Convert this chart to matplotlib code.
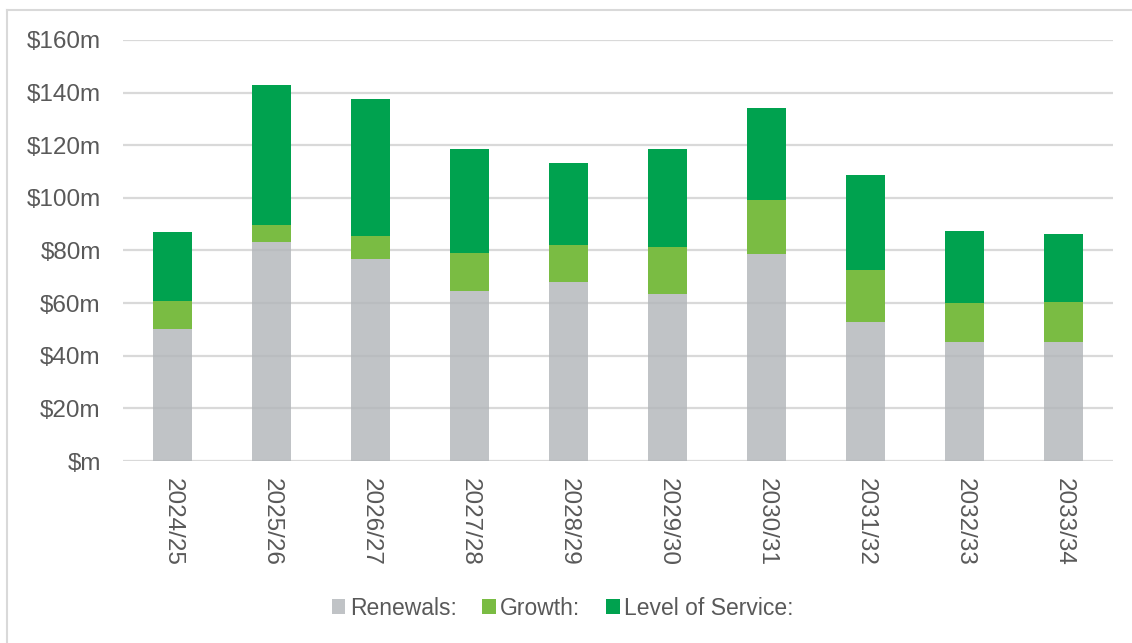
import matplotlib
matplotlib.use("Agg")
import matplotlib.pyplot as plt
from matplotlib.lines import Line2D
import numpy as np

plt.rcParams['font.family'] = ['Liberation Sans', 'DejaVu Sans']

years = ["2024/25", "2025/26", "2026/27", "2027/28", "2028/29",
         "2029/30", "2030/31", "2031/32", "2032/33", "2033/34"]
renewals = [50.2, 83.1, 76.8, 64.6, 68.0, 63.5, 78.6, 52.9, 45.1, 45.1]
growth = [10.7, 6.5, 8.6, 14.4, 14.2, 17.8, 20.7, 19.8, 15.1, 15.3]
level_of_service = [26.2, 53.3, 52.1, 39.6, 31.1, 37.4, 34.9, 36.1, 27.3, 26.0]
yticks = [0, 20, 40, 60, 80, 100, 120, 140, 160]
ytick_labels = ["$m", "$20m", "$40m", "$60m", "$80m", "$100m", "$120m", "$140m", "$160m"]

c_ren = "#B2B6BA"
c_gro = "#7ABC43"
c_los = "#00A24F"
txt = "#595959"

fig = plt.figure(figsize=(11.32, 6.43), dpi=100)
ax = fig.add_axes([0.1087, 0.283, 0.8745, 0.655])

x = np.arange(len(years))
w = 0.4
r = np.array(renewals)
g = np.array(growth)
l = np.array(level_of_service)
ax.bar(x, r, w, color=c_ren, alpha=0.82, zorder=3, label="Renewals:", edgecolor="none")
ax.bar(x, g, w, bottom=r, color=c_gro, zorder=3, label="Growth:", edgecolor="none")
ax.bar(x, l, w, bottom=r + g, color=c_los, zorder=3, label="Level of Service:", edgecolor="none")

ax.set_xlim(-0.5, len(years) - 0.5)
ax.set_ylim(0, 160)
ax.set_yticks(yticks)
ax.set_yticklabels(ytick_labels, fontsize=17.5, color=txt)
ax.set_xticks(x)
ax.set_xticklabels(years, rotation=270, fontsize=17.5, color=txt, va="top", ha="center")
ax.tick_params(axis="both", length=0)
ax.tick_params(axis="y", pad=16)
ax.tick_params(axis="x", pad=12)
ax.grid(axis="y", color="#D9D9D9", linewidth=1.6, zorder=1)
ax.set_axisbelow(True)
for s in ax.spines.values():
    s.set_visible(False)

leg = fig.legend(loc="center", bbox_to_anchor=(0.497, 0.054), ncol=3, frameon=False,
                 fontsize=16.5, handlelength=0.6, handleheight=0.6, handletextpad=0.2,
                 columnspacing=1.1)
for t in leg.get_texts():
    t.set_color(txt)

# outer border (left and top)
fig.add_artist(Line2D([7/1132, 7/1132], [0, 1 - 10/643], transform=fig.transFigure,
                      color="#D9D9D9", linewidth=1.5))
fig.add_artist(Line2D([7/1132, 1], [1 - 10/643, 1 - 10/643], transform=fig.transFigure,
                      color="#D9D9D9", linewidth=1.5))

fig.savefig("out.png", dpi=100, facecolor="white")
